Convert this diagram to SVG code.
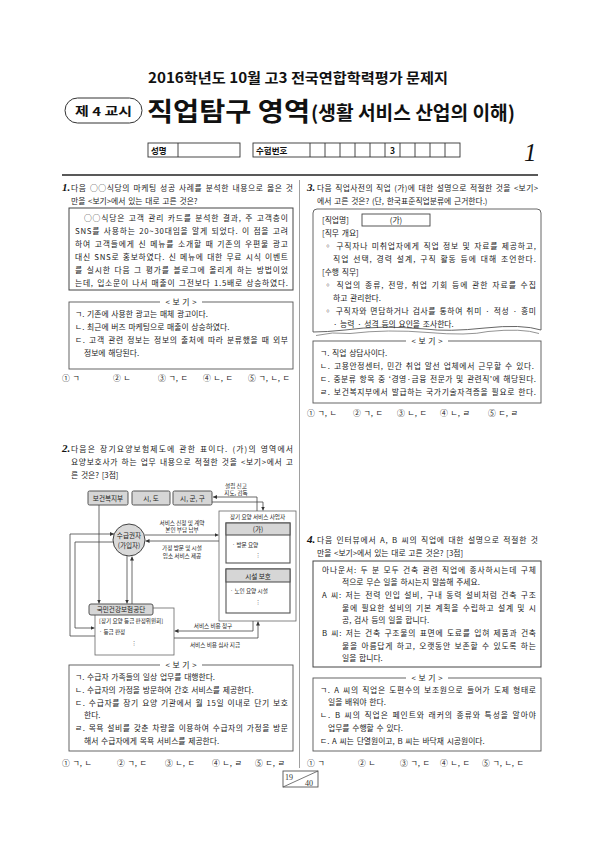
<svg xmlns="http://www.w3.org/2000/svg" width="600" height="849" viewBox="0 0 600 849">
<style>
.t{font-family:"Noto Sans CJK KR","Noto Sans",sans-serif;font-size:7.8px;fill:#222;word-spacing:1px}
.n{font-family:"Liberation Serif",serif;font-style:italic;font-weight:bold;font-size:11px;fill:#111}
.h{font-family:"Noto Sans CJK KR",sans-serif;font-weight:bold;fill:#111}
.d{font-family:"Noto Sans CJK KR","DejaVu Sans",sans-serif;font-size:5.6px;fill:#222}
.dm{font-family:"Noto Sans CJK KR","DejaVu Sans",sans-serif;font-size:6.6px;fill:#222}
.bx{fill:none;stroke:#555;stroke-width:0.9}
.gb{fill:#d6d6d6;stroke:#555;stroke-width:1}
.cell{fill:#fff;stroke:#333;stroke-width:0.9}
.bg{fill:#fff}
</style>
<defs>
<marker id="ah" viewBox="0 0 6 6" refX="6" refY="3" markerWidth="4" markerHeight="4" orient="auto" markerUnits="userSpaceOnUse"><path d="M0,0 L6,3 L0,6 z" fill="#333"/></marker>
</defs>
<rect width="600" height="849" fill="#fff"/>

<!-- header -->
<g id="header">
<text class="h" x="148" y="83" font-size="14" textLength="300" lengthAdjust="spacingAndGlyphs">2016학년도 10월 고3 전국연합학력평가 문제지</text>
<rect x="65" y="98" width="77" height="25" rx="12.5" fill="#fff" stroke="#333" stroke-width="1"/>
<text class="h" x="75" y="115.5" font-size="12" textLength="57" lengthAdjust="spacingAndGlyphs">제 4 교시</text>
<text class="h" x="147" y="120.5" font-size="26" textLength="163" lengthAdjust="spacingAndGlyphs">직업탐구 영역</text>
<text class="h" x="311" y="120" font-size="19" font-weight="500" textLength="204" lengthAdjust="spacingAndGlyphs">(생활 서비스 산업의 이해)</text>
<rect class="cell" x="148" y="143" width="92" height="14"/>
<line x1="178" y1="143" x2="178" y2="157" stroke="#333" stroke-width="0.9"/>
<text class="h" x="151" y="153.5" font-size="8.5">성명</text>
<rect class="cell" x="253" y="143" width="207" height="14"/>
<text class="h" x="256" y="153.5" font-size="8.5">수험번호</text>
<g stroke="#333" stroke-width="0.9">
<line x1="310" y1="143" x2="310" y2="157"/><line x1="325" y1="143" x2="325" y2="157"/><line x1="340" y1="143" x2="340" y2="157"/><line x1="355" y1="143" x2="355" y2="157"/><line x1="370" y1="143" x2="370" y2="157"/><line x1="385" y1="143" x2="385" y2="157"/><line x1="400" y1="143" x2="400" y2="157"/><line x1="415" y1="143" x2="415" y2="157"/><line x1="430" y1="143" x2="430" y2="157"/><line x1="445" y1="143" x2="445" y2="157"/>
</g>
<text class="h" x="392.5" y="153.5" font-size="8.5" text-anchor="middle">3</text>
<text x="524" y="161" font-family="Liberation Serif,serif" font-style="italic" font-size="25" fill="#111">1</text>
<line x1="62" y1="175" x2="538" y2="175" stroke="#222" stroke-width="1.6"/>
<line x1="299.5" y1="180" x2="299.5" y2="768" stroke="#888" stroke-width="0.8"/>
</g>

<!-- Question 1 -->
<g id="q1">
<text class="n" x="62" y="191">1.</text>
<text class="t" x="71" y="191" textLength="222">다음 ○○식당의 마케팅 성공 사례를 분석한 내용으로 옳은 것</text>
<text class="t" x="71" y="204">만을 &lt;보기&gt;에서 있는 대로 고른 것은?</text>
<rect x="69" y="208" width="224" height="82" fill="none" stroke="#444" stroke-width="1"/>
<text class="t" x="84" y="220.5" textLength="204">○○식당은 고객 관리 카드를 분석한 결과, 주 고객층이</text>
<text class="t" x="75" y="233.5" textLength="213">SNS를 사용하는 20~30대임을 알게 되었다. 이 점을 고려</text>
<text class="t" x="75" y="246.5" textLength="213">하여 고객들에게 신 메뉴를 소개할 때 기존의 우편물 광고</text>
<text class="t" x="75" y="259.5" textLength="213">대신 SNS로 홍보하였다. 신 메뉴에 대한 무료 시식 이벤트</text>
<text class="t" x="75" y="272.5" textLength="213">를 실시한 다음 그 평가를 블로그에 올리게 하는 방법이었</text>
<text class="t" x="75" y="285.5" textLength="213">는데, 입소문이 나서 매출이 그전보다 1.5배로 상승하였다.</text>
<rect class="bx" x="69" y="302" width="224" height="67"/>
<rect class="bg" x="160" y="297" width="42" height="10"/>
<text class="t" x="181" y="304.8" text-anchor="middle">&lt; 보 기 &gt;</text>
<text class="t" x="75" y="316.5">ㄱ. 기존에 사용한 광고는 매체 광고이다.</text>
<text class="t" x="75" y="329.5">ㄴ. 최근에 버즈 마케팅으로 매출이 상승하였다.</text>
<text class="t" x="75" y="342.5" textLength="213">ㄷ. 고객 관련 정보는 정보의 출처에 따라 분류했을 때 외부</text>
<text class="t" x="84" y="355.5">정보에 해당된다.</text>
<text class="t" x="62" y="380.5">① ㄱ</text>
<text class="t" x="113" y="380.5">② ㄴ</text>
<text class="t" x="158" y="380.5">③ ㄱ, ㄷ</text>
<text class="t" x="203" y="380.5">④ ㄴ, ㄷ</text>
<text class="t" x="248" y="380.5">⑤ ㄱ, ㄴ, ㄷ</text>
</g>

<!-- Question 3 -->
<g id="q3">
<text class="n" x="307" y="191">3.</text>
<text class="t" x="317" y="191" textLength="221">다음 직업사전의 직업 (가)에 대한 설명으로 적절한 것을 &lt;보기&gt;</text>
<text class="t" x="317" y="204">에서 고른 것은? (단, 한국표준직업분류에 근거한다.)</text>
<path d="M313,332 L313,213 Q313,209 317,209 L537,209 Q541,209 541,213 L541,330 Q522,324 485,328 T425,329 Q380,325 345,330 Q326,332 313,332" fill="none" stroke="#555" stroke-width="0.9"/>
<path d="M316,335.5 Q332,331.5 350,333.5 Q388,329 428,332.5 T488,331.5 Q522,328 539,333.5" fill="none" stroke="#777" stroke-width="0.8"/>
<text class="t" x="322" y="223">[직업명]</text>
<rect x="362" y="214" width="68" height="12" fill="#fff" stroke="#444" stroke-width="0.9"/>
<text class="t" x="396" y="223" text-anchor="middle">(가)</text>
<text class="t" x="322" y="236">[직무 개요]</text>
<text class="t" x="324" y="249" textLength="212">◦ 구직자나 미취업자에게 직업 정보 및 자료를 제공하고,</text>
<text class="t" x="333" y="262" textLength="203">직업 선택, 경력 설계, 구직 활동 등에 대해 조언한다.</text>
<text class="t" x="322" y="275">[수행 직무]</text>
<text class="t" x="324" y="288" textLength="212">◦ 직업의 종류, 전망, 취업 기회 등에 관한 자료를 수집</text>
<text class="t" x="333" y="301">하고 관리한다.</text>
<text class="t" x="324" y="314" textLength="212">◦ 구직자와 면담하거나 검사를 통하여 취미 · 적성 · 흥미</text>
<text class="t" x="333" y="327">· 능력 · 성격 등의 요인을 조사한다.</text>
<rect class="bx" x="313" y="341" width="228" height="62"/>
<rect class="bg" x="406" y="336" width="42" height="10"/>
<text class="t" x="427" y="343.8" text-anchor="middle">&lt; 보 기 &gt;</text>
<text class="t" x="320" y="356">ㄱ. 직업 상담사이다.</text>
<text class="t" x="320" y="369" textLength="214">ㄴ. 고용안정센터, 민간 취업 알선 업체에서 근무할 수 있다.</text>
<text class="t" x="320" y="382" textLength="216">ㄷ. 중분류 항목 중 ‘경영·금융 전문가 및 관련직’에 해당된다.</text>
<text class="t" x="320" y="395" textLength="216">ㄹ. 보건복지부에서 발급하는 국가기술자격증을 필요로 한다.</text>
<text class="t" x="307" y="416">① ㄱ, ㄴ</text>
<text class="t" x="353" y="416">② ㄱ, ㄷ</text>
<text class="t" x="397" y="416">③ ㄴ, ㄷ</text>
<text class="t" x="440" y="416">④ ㄴ, ㄹ</text>
<text class="t" x="488" y="416">⑤ ㄷ, ㄹ</text>
</g>

<!-- Question 2 -->
<g id="q2">
<text class="n" x="62" y="452">2.</text>
<text class="t" x="71" y="452" textLength="222">다음은 장기요양보험제도에 관한 표이다. (가)의 영역에서</text>
<text class="t" x="71" y="465" textLength="222">요양보호사가 하는 업무 내용으로 적절한 것을 &lt;보기&gt;에서 고</text>
<text class="t" x="71" y="478">른 것은? [3점]</text>
</g>

<g id="diagram-labels">
<text class="d" x="236" y="488" text-anchor="middle">설립 신고</text>
<text class="d" x="236" y="495" text-anchor="middle">지도, 감독</text>
<text class="d" x="182" y="525" text-anchor="middle">서비스 신청 및 계약</text>
<text class="d" x="182" y="532" text-anchor="middle">본인 부담 납부</text>
<text class="d" x="182" y="550" text-anchor="middle">가정 방문 및 시설</text>
<text class="d" x="182" y="557.5" text-anchor="middle">입소 서비스 제공</text>
<text class="d" x="213" y="627.5" text-anchor="middle">서비스 비용 청구</text>
<text class="d" x="215" y="647" text-anchor="middle">서비스 비용 심사 지급</text>
</g>

<g id="node-mohw">
<rect class="gb" x="88" y="491" width="40" height="14" rx="1.5"/>
<text class="dm" x="108" y="500.5" text-anchor="middle">보건복지부</text>
</g>
<g id="node-sido">
<rect class="gb" x="132" y="491" width="38" height="14" rx="1.5"/>
<text class="dm" x="151" y="500.5" text-anchor="middle">시, 도</text>
</g>
<g id="node-sigungu">
<rect class="gb" x="173" y="491" width="39" height="14" rx="1.5"/>
<text class="dm" x="192.5" y="500.5" text-anchor="middle">시, 군, 구</text>
</g>

<g id="node-provider">
<rect x="219" y="511" width="77" height="110" fill="#fff" stroke="#666" stroke-width="0.8"/>
<text class="d" x="257.5" y="519" text-anchor="middle" font-size="6">장기 요양 서비스 사업자</text>
</g>
<g id="node-ga">
<rect x="226" y="523" width="64" height="40" fill="#fff" stroke="#555" stroke-width="1.1"/>
<rect x="226" y="523" width="64" height="12" fill="#d6d6d6" stroke="#555" stroke-width="1.1"/>
<text class="dm" x="258" y="531.8" text-anchor="middle" font-size="7">(가)</text>
<text class="d" x="232" y="547">· 방문 요양</text>
<text class="d" x="258" y="557" text-anchor="middle">⋮</text>
</g>
<g id="node-facility">
<rect x="226" y="569" width="64" height="44" fill="#fff" stroke="#555" stroke-width="1.1"/>
<rect x="226" y="569" width="64" height="13" fill="#d6d6d6" stroke="#555" stroke-width="1.1"/>
<text class="dm" x="258" y="578.5" text-anchor="middle" font-size="7.5">시설 보호</text>
<text class="d" x="230" y="593">· 노인 요양 시설</text>
<text class="d" x="258" y="604" text-anchor="middle">⋮</text>
</g>

<g id="node-recipient">
<circle cx="129" cy="540" r="16" fill="#d9d9d9" stroke="#444" stroke-width="1"/>
<text class="dm" x="129" y="538" text-anchor="middle">수급권자</text>
<text class="dm" x="129" y="548" text-anchor="middle">(가입자)</text>
</g>

<g id="node-nhis">
<rect x="95" y="608" width="79" height="47" fill="#fff" stroke="#666" stroke-width="0.8"/>
<rect class="gb" x="89" y="604" width="64" height="11" rx="2"/>
<text class="dm" x="121" y="612.3" text-anchor="middle">국민건강보험공단</text>
<text class="d" x="99" y="622.5">[장기 요양 등급 판정위원회]</text>
<text class="d" x="99" y="633.5">· 등급 판정</text>
<text class="d" x="134" y="645" text-anchor="middle">⋮</text>
</g>

<g id="connectors" fill="none" stroke="#444" stroke-width="0.8">
<path d="M257,511 V497 H213" marker-end="url(#ah)"/>
<path d="M212,502 H263 V510.5" marker-end="url(#ah)"/>
<path d="M99,505 V603.5" marker-end="url(#ah)"/>
<path d="M127,556 V603.5" marker-end="url(#ah)"/>
<path d="M132,604 V556.5" marker-end="url(#ah)"/>
<path d="M145,535 H218.5" marker-end="url(#ah)"/>
<path d="M219,541 H145.5" marker-end="url(#ah)"/>
<path d="M95,636 H70 V534 H114" marker-end="url(#ah)"/>
<path d="M113.5,542 H75 V628 H94.5" marker-end="url(#ah)"/>
<path d="M253,621 V631 H174.5" marker-end="url(#ah)"/>
<path d="M174,638 H258 V621.5" marker-end="url(#ah)"/>
</g>

<g id="q2-choices">
<rect class="bx" x="69" y="665" width="224" height="86"/>
<rect class="bg" x="160" y="660" width="42" height="10"/>
<text class="t" x="181" y="667.8" text-anchor="middle">&lt; 보 기 &gt;</text>
<text class="t" x="75" y="679.5">ㄱ. 수급자 가족들의 일상 업무를 대행한다.</text>
<text class="t" x="75" y="692.5">ㄴ. 수급자의 가정을 방문하여 간호 서비스를 제공한다.</text>
<text class="t" x="75" y="705.5" textLength="213">ㄷ. 수급자를 장기 요양 기관에서 월 15일 이내로 단기 보호</text>
<text class="t" x="84" y="718">한다.</text>
<text class="t" x="75" y="731" textLength="213">ㄹ. 목욕 설비를 갖춘 차량을 이용하여 수급자의 가정을 방문</text>
<text class="t" x="84" y="743.5">해서 수급자에게 목욕 서비스를 제공한다.</text>
<text class="t" x="62" y="766">① ㄱ, ㄴ</text>
<text class="t" x="117" y="766">② ㄱ, ㄷ</text>
<text class="t" x="165" y="766">③ ㄴ, ㄷ</text>
<text class="t" x="212" y="766">④ ㄴ, ㄹ</text>
<text class="t" x="255" y="766">⑤ ㄷ, ㄹ</text>
</g>

<!-- Question 4 -->
<g id="q4">
<text class="n" x="307" y="543">4.</text>
<text class="t" x="317" y="543" textLength="221">다음 인터뷰에서 A, B 씨의 직업에 대한 설명으로 적절한 것</text>
<text class="t" x="317" y="556">만을 &lt;보기&gt;에서 있는 대로 고른 것은? [3점]</text>
<rect x="313" y="561" width="228" height="106" fill="none" stroke="#444" stroke-width="1"/>
<text class="t" x="322" y="572.5" textLength="214">아나운서: 두 분 모두 건축 관련 직업에 종사하시는데 구체</text>
<text class="t" x="342" y="585">적으로 무슨 일을 하시는지 말씀해 주세요.</text>
<text class="t" x="322" y="598" textLength="214">A 씨: 저는 전력 인입 설비, 구내 동력 설비처럼 건축 구조</text>
<text class="t" x="342" y="610.5" textLength="194">물에 필요한 설비의 기본 계획을 수립하고 설계 및 시</text>
<text class="t" x="342" y="623">공, 검사 등의 일을 합니다.</text>
<text class="t" x="322" y="636" textLength="214">B 씨: 저는 건축 구조물의 표면에 도료를 입혀 제품과 건축</text>
<text class="t" x="342" y="648.5" textLength="194">물을 아름답게 하고, 오랫동안 보존할 수 있도록 하는</text>
<text class="t" x="342" y="661">일을 합니다.</text>
<rect class="bx" x="313" y="678" width="228" height="73"/>
<rect class="bg" x="406" y="673" width="42" height="10"/>
<text class="t" x="427" y="680.8" text-anchor="middle">&lt; 보 기 &gt;</text>
<text class="t" x="320" y="692.5" textLength="216">ㄱ. A 씨의 직업은 도편수의 보조원으로 들어가 도제 형태로</text>
<text class="t" x="328" y="705">일을 배워야 한다.</text>
<text class="t" x="320" y="718" textLength="216">ㄴ. B 씨의 직업은 페인트와 래커의 종류와 특성을 알아야</text>
<text class="t" x="328" y="730.5">업무를 수행할 수 있다.</text>
<text class="t" x="320" y="743.5">ㄷ. A 씨는 단열원이고, B 씨는 바닥재 시공원이다.</text>
<text class="t" x="307" y="766">① ㄱ</text>
<text class="t" x="358" y="766">② ㄴ</text>
<text class="t" x="400" y="766">③ ㄱ, ㄷ</text>
<text class="t" x="440" y="766">④ ㄴ, ㄷ</text>
<text class="t" x="482" y="766">⑤ ㄱ, ㄴ, ㄷ</text>
</g>

<g id="footer">
<rect x="283" y="771" width="35" height="16" fill="#fff" stroke="#555" stroke-width="0.9"/>
<line x1="283" y1="787" x2="318" y2="771" stroke="#555" stroke-width="0.8"/>
<text x="285" y="779.5" font-family="Liberation Serif,serif" font-size="8" fill="#333">19</text>
<text x="305" y="785.5" font-family="Liberation Serif,serif" font-size="8" fill="#333">40</text>
</g>
</svg>
